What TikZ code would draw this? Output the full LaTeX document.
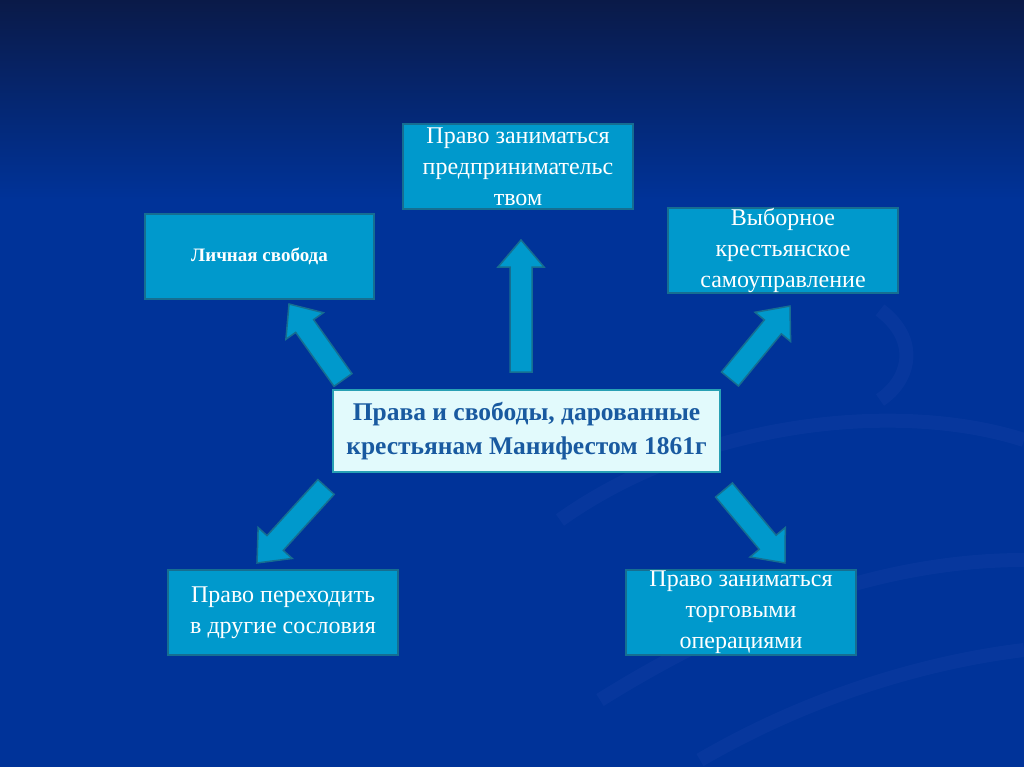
\documentclass[tikz,border=0pt]{standalone}
\usepackage{fontspec}
\setmainfont{Liberation Serif}
\newfontfamily\boxfont{Liberation Serif}
\usetikzlibrary{calc}
\definecolor{bgblue}{RGB}{0,51,153}
\definecolor{bgtop}{RGB}{10,26,72}
\definecolor{boxfill}{RGB}{0,153,204}
\definecolor{boxline}{RGB}{22,110,145}
\definecolor{cfill}{RGB}{226,250,252}
\definecolor{cline}{RGB}{40,160,180}
\definecolor{ctext}{RGB}{25,90,160}
\definecolor{swirl}{RGB}{30,70,170}
\tikzset{
  outerbox/.style={draw=boxline, line width=2.5pt, fill=boxfill, text=white,
    inner sep=0pt, align=center, font=\boxfont\fontsize{24}{31}\selectfont},
  centerbox/.style={draw=cline, line width=2.5pt, fill=cfill, text=ctext,
    inner sep=0pt, align=center, font=\boxfont\bfseries\fontsize{25.5}{34}\selectfont},
  blockarr/.style={draw=boxline, line width=1.5pt, fill=boxfill, line join=miter},
}
\newcommand\blockarrow[2]{%
  \path let \p1=(#1), \p2=(#2),
    \n1={atan2(\y2-\y1,\x2-\x1)}, \n2={veclen(\x2-\x1,\y2-\y1)} in
    [blockarr, shift={(\p1)}, rotate=\n1]
    (0pt,-11pt) -- ({(\n2-27)*1pt},-11pt) -- ({(\n2-27)*1pt},-23pt) --
    ({\n2*1pt},0pt) -- ({(\n2-27)*1pt},23pt) -- ({(\n2-27)*1pt},11pt) --
    (0pt,11pt) -- cycle;}
\begin{document}
\begin{tikzpicture}[x=1pt,y=-1pt]
% background
\fill[bgblue] (0,0) rectangle (1024,767);
\shade[top color=bgtop, bottom color=bgblue] (0,0) rectangle (1024,200);
\useasboundingbox (0,0) rectangle (1024,767);
% faint swirls
\begin{scope}[swirl, line width=14pt, opacity=0.25]
  \draw (560,520) .. controls (700,420) and (900,400) .. (1024,440);
  \draw (600,700) .. controls (760,600) and (900,560) .. (1024,560);
  \draw (700,760) .. controls (820,690) and (940,660) .. (1024,650);
  \draw (880,310) .. controls (920,340) and (910,380) .. (880,400);
\end{scope}
% nodes
\node[outerbox, minimum width=230pt, minimum height=85pt] (top) at (518,166.5)
  {Право заниматься\\предпринимательс\\твом};
\node[outerbox, minimum width=229pt, minimum height=85pt,
  font=\boxfont\bfseries\fontsize{19}{24}\selectfont] (lichn) at (259.5,256.5)
  {Личная свобода};
\node[outerbox, minimum width=230pt, minimum height=85pt] (vyb) at (783,250.5)
  {Выборное\\крестьянское\\самоуправление};
\node[centerbox, minimum width=387pt, minimum height=82pt] (center) at (526.5,431)
  {Права и свободы, дарованные\\крестьянам Манифестом 1861г};
\node[outerbox, minimum width=230pt, minimum height=85pt] (perekh) at (283,612.5)
  {Право переходить\\в другие сословия};
\node[outerbox, minimum width=230pt, minimum height=85pt] (torg) at (741,612.5)
  {Право заниматься\\торговыми\\операциями};
% arrow end points
\coordinate (aUt) at (521,372);  \coordinate (aUh) at (521,240);
\coordinate (aULt) at (343,380); \coordinate (aULh) at (289,304);
\coordinate (aURt) at (730,379); \coordinate (aURh) at (790,306);
\coordinate (aLLt) at (326,487); \coordinate (aLLh) at (257,563);
\coordinate (aLRt) at (724,490); \coordinate (aLRh) at (785,563);
\blockarrow{aUt}{aUh}
\blockarrow{aULt}{aULh}
\blockarrow{aURt}{aURh}
\blockarrow{aLLt}{aLLh}
\blockarrow{aLRt}{aLRh}
\end{tikzpicture}
\end{document}
